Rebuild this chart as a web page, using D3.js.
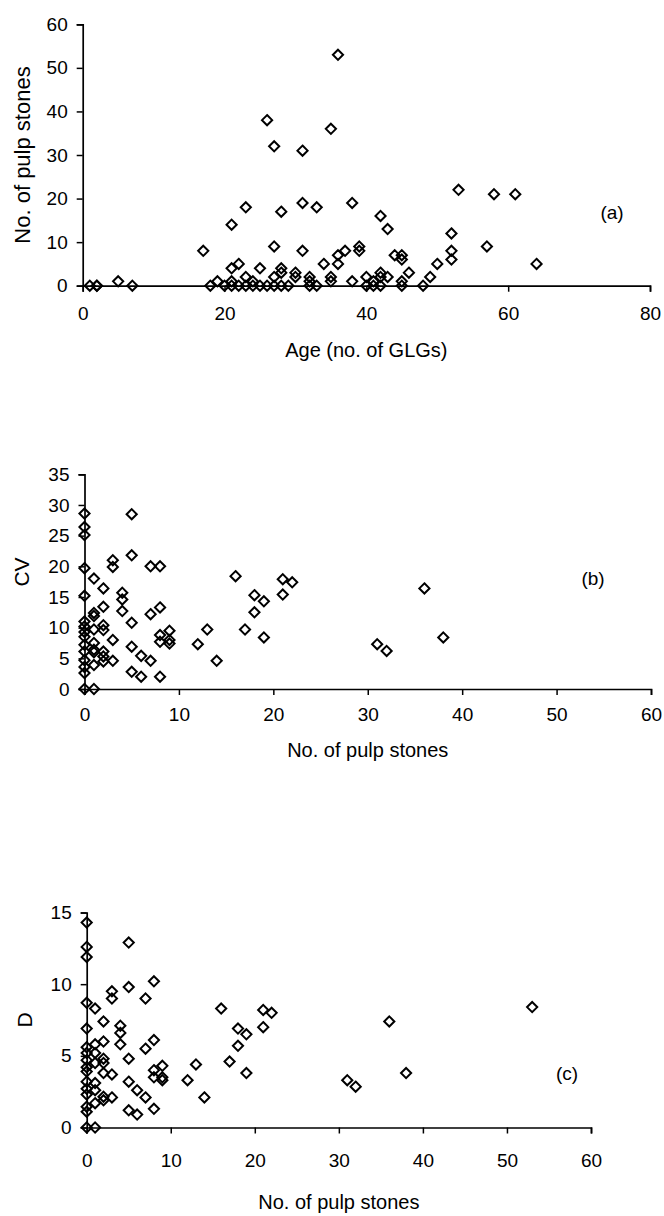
<!DOCTYPE html>
<html>
<head>
<meta charset="UTF-8">
<script src="https://cdn.jsdelivr.net/npm/d3@7/dist/d3.min.js"></script>
<style>
  * { margin: 0; padding: 0; }
  body { background: #fff; width: 664px; height: 1216px; overflow: hidden; }
  svg { display: block; }
  text { font-family: "Liberation Sans", Arial, sans-serif; fill: #000; }
</style>
</head>
<body>
<svg id="chart" width="664" height="1216"></svg>
<script>
// (a) age (no. of GLGs) vs no. of pulp stones
const ageA = [1,2,2,5,7, 17,18,19,20, 21,21,21,21, 22,22, 23,23,23, 24,24, 25,25, 26,26,
  27,27,27,27, 28,28,28,28, 29, 30,30, 31,31,31, 32,32,32, 33,33, 34, 35,35,35, 36,36,36,
  37, 38,38, 39,39, 40,40, 41,41, 42,42,42,42, 43,43, 44, 45,45,45,45, 46, 48, 49, 50,
  52,52,52, 53, 57, 58, 61, 64];
const stonesA = [0,0,0,1,0, 8,0,1,0, 14,4,1,0, 5,0, 18,2,0, 1,0, 4,0, 38,0,
  32,9,2,0, 17,4,3,0, 0, 3,2, 31,19,8, 2,1,0, 18,0, 5, 36,2,1, 53,7,5,
  8, 19,1, 9,8, 2,0, 1,0, 16,3,2,0, 13,2, 7, 7,6,1,0, 3, 0, 2, 5,
  12,8,6, 22, 9, 21, 21, 5];

// (b) no. of pulp stones vs CV
const stonesB = [0,0,0,0,0,0,0,0,0,0,0,0,0,0,0, 1,1,1,1,1,1,1,1,1, 2,2,2,2,2,2,2,
  3,3,3,3, 4,4,4, 5,5,5,5,5, 6,6, 7,7,7, 8,8,8,8,8, 9,9,9,
  12,13,14,16,17,18,18,19,19,21,21,22,31,32,36,38];
const cvB = [28.6,26.4,25.1,19.7,15.2,11.0,10.2,9.3,8.5,7.2,6.1,4.7,3.6,2.6,0,
  18.0,12.4,11.9,9.7,7.5,6.4,6.0,3.9,0,
  16.4,13.4,10.4,9.6,6.1,5.3,4.5,
  21.0,19.9,8.0,4.6, 15.7,14.6,12.7, 28.5,21.8,10.8,6.9,2.8, 5.4,2.0,
  20.0,12.2,4.6, 20.0,13.3,8.8,7.7,2.0, 9.5,8.0,7.4,
  7.3,9.7,4.6,18.4,9.7,15.3,12.5,14.3,8.4,17.9,15.4,17.4,7.3,6.2,16.4,8.4];

// (c) no. of pulp stones vs D
const stonesC = [0,0,0,0,0,0,0,0,0,0,0,0,0,0,0,0, 1,1,1,1,1,1,1,1, 2,2,2,2,2,2,2,
  3,3,3,3, 4,4,4, 5,5,5,5,5, 6,6, 7,7,7, 8,8,8,8,8, 9,9,9,
  12,13,14,16,17,18,18,19,19,21,21,22,31,32,36,38,53];
const dC = [14.3,12.6,11.9,8.7,6.9,5.6,5.2,4.7,4.2,3.9,3.2,2.7,2.3,1.45,1.1,0,
  8.3,5.8,5.2,4.5,3.1,2.6,1.7,0,
  7.4,6.0,4.8,4.5,3.8,2.15,1.9,
  9.5,9.0,3.7,2.1, 7.1,6.6,5.8, 12.9,9.8,4.8,3.2,1.2, 2.6,0.9,
  9.0,5.5,2.1, 10.2,6.1,4.0,3.5,1.3, 4.3,3.5,3.3,
  3.3,4.4,2.1,8.3,4.6,6.9,5.7,6.5,3.8,8.2,7.0,8.0,3.3,2.85,7.4,3.8,8.4];

const ticksA_x = [0, 20, 40, 60, 80];
const ticksA_y = [0, 10, 20, 30, 40, 50, 60];
const ticksB_x = [0, 10, 20, 30, 40, 50, 60];
const ticksB_y = [0, 5, 10, 15, 20, 25, 30, 35];
const ticksC_x = [0, 10, 20, 30, 40, 50, 60];
const ticksC_y = [0, 5, 10, 15];

const svg = d3.select('#chart');

function panel(opt) {
  const x = d3.scaleLinear().domain(opt.xDomain).range(opt.xRange);
  const y = d3.scaleLinear().domain(opt.yDomain).range(opt.yRange);
  const g = svg.append('g');

  // diamonds, hollow so the axis shows through
  const sym = d3.symbol().type(d3.symbolDiamond2).size(66);
  g.append('g').selectAll('path')
    .data(opt.xs.map((v, i) => [v, opt.ys[i]]))
    .join('path')
    .attr('transform', d => `translate(${x(d[0])},${y(d[1])})`)
    .attr('d', sym)
    .attr('fill', 'none')
    .attr('stroke', '#000')
    .attr('stroke-width', 2);

  const ax = g.append('g')
    .attr('transform', `translate(0,${opt.yRange[0]})`)
    .call(d3.axisBottom(x).tickValues(opt.xTicks).tickSizeOuter(0).tickSize(6).tickPadding(opt.xPad));
  const ay = g.append('g')
    .attr('transform', `translate(${opt.xRange[0]},0)`)
    .call(d3.axisLeft(y).tickValues(opt.yTicks).tickSizeOuter(0).tickSize(6).tickPadding(9));
  [ax, ay].forEach(a => {
    a.select('.domain').attr('stroke', '#000').attr('stroke-width', 1.7);
    a.selectAll('.tick line').attr('stroke', '#000').attr('stroke-width', 1.5);
    a.selectAll('.tick text').attr('font-size', 19).attr('font-family', '"Liberation Sans", Arial, sans-serif').attr('fill', '#000');
  });

  // axis titles
  g.append('text')
    .attr('x', (opt.xRange[0] + opt.xRange[1]) / 2)
    .attr('y', opt.xTitleY)
    .attr('text-anchor', 'middle')
    .attr('font-size', 20)
    .text(opt.xTitle);
  g.append('text')
    .attr('transform', `translate(${opt.yTitleX},${opt.yTitleY}) rotate(-90)`)
    .attr('text-anchor', 'middle')
    .attr('dy', '0.35em')
    .attr('font-size', opt.yTitleSize)
    .text(opt.yTitle);
  g.append('text')
    .attr('x', opt.tagX).attr('y', opt.tagY)
    .attr('text-anchor', 'middle')
    .attr('dy', '0.35em')
    .attr('font-size', 19)
    .text(opt.tag);
}

panel({
  xs: ageA, ys: stonesA,
  xDomain: [0, 80], yDomain: [0, 60],
  xRange: [82.7, 650], yRange: [285.7, 24.3],
  xTicks: ticksA_x, yTicks: ticksA_y, xPad: 15,
  xTitle: 'Age (no. of GLGs)', xTitleY: 357,
  yTitle: 'No. of pulp stones', yTitleX: 22, yTitleY: 155, yTitleSize: 22,
  tag: '(a)', tagX: 612, tagY: 212
});

panel({
  xs: stonesB, ys: cvB,
  xDomain: [0, 60], yDomain: [0, 35],
  xRange: [84.5, 651], yRange: [689, 474.3],
  xTicks: ticksB_x, yTicks: ticksB_y, xPad: 13,
  xTitle: 'No. of pulp stones', xTitleY: 757,
  yTitle: 'CV', yTitleX: 22, yTitleY: 572, yTitleSize: 21,
  tag: '(b)', tagX: 593, tagY: 578
});

panel({
  xs: stonesC, ys: dC,
  xDomain: [0, 60], yDomain: [0, 15],
  xRange: [86.7, 591], yRange: [1127.5, 912.5],
  xTicks: ticksC_x, yTicks: ticksC_y, xPad: 20,
  xTitle: 'No. of pulp stones', xTitleY: 1209,
  yTitle: 'D', yTitleX: 25, yTitleY: 1020, yTitleSize: 21,
  tag: '(c)', tagX: 567, tagY: 1073
});
</script>
</body>
</html>
